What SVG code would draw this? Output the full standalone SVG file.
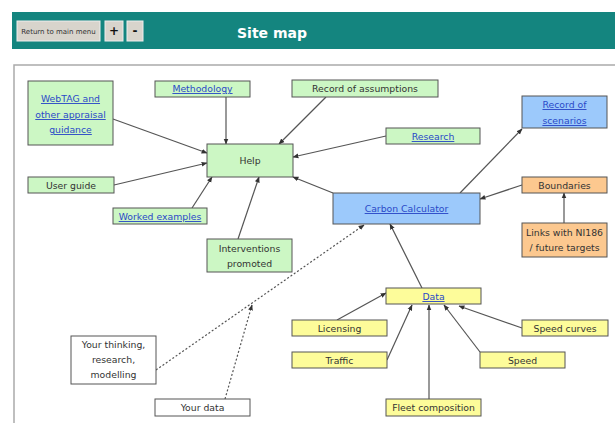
<svg xmlns="http://www.w3.org/2000/svg" width="615" height="423" viewBox="0 0 615 423">
<style>
text{font-family:"DejaVu Sans","Liberation Sans",sans-serif;font-size:9.3px;fill:#333;text-anchor:middle}
.lnk{fill:#2a49c8;text-decoration:underline}
.n rect{stroke:#555;stroke-width:1}
.g rect{fill:#ccf7c4}
.b rect{fill:#9cc9fb}
.o rect{fill:#fcc88f}
.y rect{fill:#fdfc9a}
.w rect{fill:#fff}
.c line{stroke:#555;stroke-width:1.2}
.c .d{stroke-dasharray:2,2}
</style>
<defs>
<marker id="a" viewBox="0 0 10 10" refX="9" refY="5" markerWidth="6" markerHeight="6" orient="auto" markerUnits="userSpaceOnUse"><path d="M0,1 L10,5 L0,9 z" fill="#333"/></marker>
</defs>
<rect width="615" height="423" fill="#fff"/>
<g id="header">
<rect x="12" y="12" width="603" height="37" fill="#14857f"/>
<rect x="17" y="21" width="83" height="20" fill="#d8d4cc" stroke="#eee"/>
<text x="58.5" y="34" style="font-size:7px">Return to main menu</text>
<rect x="105" y="21" width="18" height="20" fill="#d8d4cc" stroke="#eee"/>
<text x="114" y="35" style="font-size:12px;font-weight:bold;fill:#111">+</text>
<rect x="127" y="21" width="16" height="20" fill="#d8d4cc" stroke="#eee"/>
<text x="135" y="35" style="font-size:12px;font-weight:bold;fill:#111">-</text>
<text x="272" y="38" style="font-size:14px;font-weight:bold;fill:#fff">Site map</text>
</g>
<path d="M14,423 V65 H615" fill="none" stroke="#aaa" stroke-width="1.5"/>
<g class="c">
<line x1="113" y1="119" x2="207" y2="153" marker-end="url(#a)"/>
<line x1="226" y1="97" x2="226" y2="144" marker-end="url(#a)"/>
<line x1="326" y1="97" x2="279" y2="144" marker-end="url(#a)"/>
<line x1="386" y1="136" x2="293" y2="157" marker-end="url(#a)"/>
<line x1="333" y1="193" x2="293" y2="177" marker-end="url(#a)"/>
<line x1="114" y1="185" x2="207" y2="163" marker-end="url(#a)"/>
<line x1="192" y1="208" x2="212" y2="177" marker-end="url(#a)"/>
<line x1="238" y1="239" x2="259" y2="177" marker-end="url(#a)"/>
<line x1="460" y1="193" x2="522" y2="129" marker-end="url(#a)"/>
<line x1="522" y1="185" x2="480" y2="199" marker-end="url(#a)"/>
<line x1="564" y1="223" x2="564" y2="193" marker-end="url(#a)"/>
<line x1="422" y1="288" x2="390" y2="224" marker-end="url(#a)"/>
<line x1="337" y1="320" x2="386" y2="293" marker-end="url(#a)"/>
<line x1="387" y1="360" x2="412" y2="305" marker-end="url(#a)"/>
<line x1="429" y1="399" x2="429" y2="305" marker-end="url(#a)"/>
<line x1="480" y1="352" x2="444" y2="305" marker-end="url(#a)"/>
<line x1="522" y1="328" x2="459" y2="306" marker-end="url(#a)"/>
<line class="d" x1="156" y1="370" x2="364" y2="225" marker-end="url(#a)"/>
<line class="d" x1="225" y1="399" x2="252" y2="305" marker-end="url(#a)"/>
</g>
<g id="webtag" class="n g"><rect x="28" y="81" width="85" height="64"/><text x="70.5" y="102" class="lnk">WebTAG and</text><text x="70.5" y="118" class="lnk">other appraisal</text><text x="70.5" y="133" class="lnk">guidance</text></g>
<g id="methodology" class="n g"><rect x="155" y="81" width="95" height="16"/><text x="202.5" y="92" class="lnk">Methodology</text></g>
<g id="assumptions" class="n g"><rect x="292" y="80" width="146" height="17"/><text x="365" y="92">Record of assumptions</text></g>
<g id="help" class="n g"><rect x="207" y="144" width="86" height="33"/><text x="250" y="164">Help</text></g>
<g id="userguide" class="n g"><rect x="28" y="177" width="86" height="16"/><text x="71" y="189">User guide</text></g>
<g id="worked" class="n g"><rect x="113" y="208" width="94" height="16"/><text x="160" y="220" class="lnk">Worked examples</text></g>
<g id="research" class="n g"><rect x="386" y="128" width="94" height="16"/><text x="433" y="140" class="lnk">Research</text></g>
<g id="interventions" class="n g"><rect x="207" y="239" width="85" height="33"/><text x="249.5" y="252">Interventions</text><text x="249.5" y="267">promoted</text></g>
<g id="scenarios" class="n b"><rect x="522" y="96" width="85" height="32"/><text x="564.5" y="108" class="lnk">Record of</text><text x="564.5" y="124" class="lnk">scenarios</text></g>
<g id="carbon" class="n b"><rect x="333" y="193" width="147" height="31"/><text x="406.5" y="212" class="lnk">Carbon Calculator</text></g>
<g id="boundaries" class="n o"><rect x="522" y="177" width="85" height="16"/><text x="564.5" y="189">Boundaries</text></g>
<g id="ni186" class="n o"><rect x="522" y="223" width="85" height="34"/><text x="564.5" y="236">Links with NI186</text><text x="564.5" y="251">/ future targets</text></g>
<g id="data" class="n y"><rect x="386" y="288" width="95" height="16"/><text x="433.5" y="300" class="lnk">Data</text></g>
<g id="licensing" class="n y"><rect x="292" y="320" width="95" height="16"/><text x="339.5" y="332">Licensing</text></g>
<g id="traffic" class="n y"><rect x="292" y="352" width="95" height="16"/><text x="339.5" y="364">Traffic</text></g>
<g id="speedcurves" class="n y"><rect x="522" y="320" width="86" height="16"/><text x="565" y="332">Speed curves</text></g>
<g id="speed" class="n y"><rect x="480" y="352" width="85" height="16"/><text x="522.5" y="364">Speed</text></g>
<g id="fleet" class="n y"><rect x="386" y="399" width="95" height="17"/><text x="433.5" y="411">Fleet composition</text></g>
<g id="thinking" class="n w"><rect x="71" y="336" width="85" height="48"/><text x="113.5" y="348">Your thinking,</text><text x="113.5" y="363">research,</text><text x="113.5" y="378">modelling</text></g>
<g id="yourdata" class="n w"><rect x="155" y="399" width="95" height="17"/><text x="202.5" y="411">Your data</text></g>
</svg>
